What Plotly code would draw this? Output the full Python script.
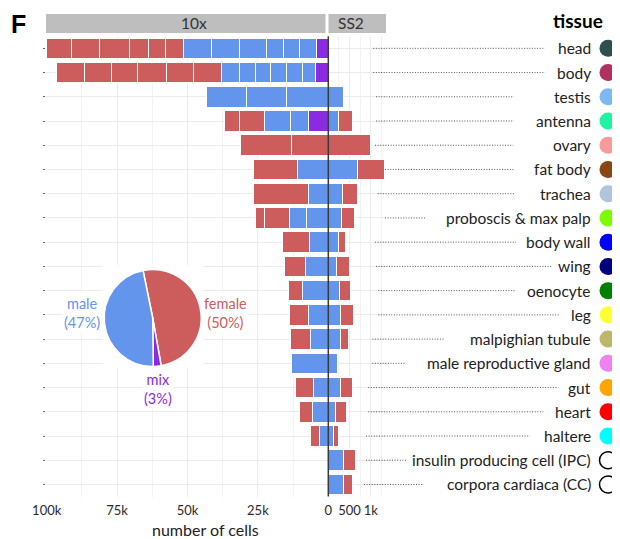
import plotly.graph_objects as go

# ---------------- data ----------------
tissues = ["head", "body", "testis", "antenna", "ovary", "fat body", "trachea",
           "proboscis & max palp", "body wall", "wing", "oenocyte", "leg",
           "malpighian tubule", "male reproductive gland", "gut", "heart",
           "haltere", "insulin producing cell (IPC)", "corpora cardiaca (CC)"]

# 10x segments (cells), listed from the zero line outward
mix_10x = [[4100], [4400], [], [7200], [], [], [], [], [], [], [], [], [], [], [], [], [], [], []]
male_10x = [[6000, 5700, 6000, 9900, 9900, 9800],
            [4800, 5800, 5700, 5300, 5700, 6100],
            [14800, 14100, 14200],
            [6400, 9200],
            [],
            [11100],
            [7100],
            [7700, 6100],
            [6800],
            [8100],
            [9300],
            [7200],
            [6200],
            [12900],
            [5400],
            [5500],
            [3200],
            [],
            []]
female_10x = [[6400, 6200, 6600, 10600, 10000, 8900],
              [10100, 9700, 10300, 9200, 9600, 9900],
              [],
              [8900, 5200],
              [12900, 18200],
              [15500],
              [19500],
              [8800, 3400],
              [9500],
              [7500],
              [4900],
              [6700],
              [7300],
              [],
              [6100],
              [4900],
              [3000],
              [],
              []]

# SS2 cells
male_ss2 = [None, None, 354, 236, None, 689, 340, 323, 247, 201, 264, 288, 295, 212, 281, 169, 130, 352, 352]
female_ss2 = [None, None, None, 330, 984, 631, 354, 290, 153, 294, 248, 301, 176, None, 285, 265, 116, 285, 223]

pie_labels = ["female", "mix", "male"]
pie_values = [50.4, 2.6, 47.0]
pie_pct = ["(50%)", "(3%)", "(47%)"]

tick_vals_10x = [25000, 50000, 75000, 100000]
tick_text_10x = ["25k", "50k", "75k", "100k"]
minor_10x = [12500, 37500, 62500, 87500]
tick_vals_ss2 = [0, 500, 1000]
tick_text_ss2 = ["0", "500", "1k"]
minor_ss2 = [250, 750, 1250]

tissue_colors = ["#2F4F4F", "#B03060", "#7EB8F2", "#1EF5A2", "#F99A9A", "#8B4513",
                 "#B0C4DE", "#7CFC00", "#0000FF", "#000080", "#008000", "#FFFF33",
                 "#BDB76B", "#EE82EE", "#FFA500", "#FF0000", "#00FFFF", "#FFFFFF", "#FFFFFF"]

# ---------------- layout constants ----------------
OFF = 8                      # default page body margin
WIN_W, WIN_H = 620, 539
W, H = WIN_W - OFF, WIN_H - OFF
FONT = "Lato"
C_F, C_M, C_X = "#CD5C5C", "#6495ED", "#8A2BE2"

def px(x):
    return (x - OFF) / W

def py(y):
    return 1 - (y - OFF) / H

X_L0, X_ZERO, X_R1 = 46.0, 328.3, 386.0
Y_TOP, Y_BOT = 36.2, 496.6
X10_MAX = 100250
SS2_MAX = 1360
n = len(tissues)

def x10(pxv):
    # pixel -> 10x data value (for decorative box only)
    return (X_ZERO - pxv) / (X_ZERO - X_L0) * X10_MAX

def yidx(pyv):
    return (pyv - Y_TOP) / (Y_BOT - Y_TOP) * n - 0.5

def rowy(i):
    return py(Y_TOP + (i + 0.5) * (Y_BOT - Y_TOP) / n)

# leader line pixel extents (layout)
leader_x0 = [373.3, 373.3, 376, 376, 375, 385, 377.7, 385, 375, 376, 378.3, 378.3, 372.3, 372.3, 368.3, 368.3, 366, 366, 364]
leader_x1 = [545, 545, 514, 514, 513.3, 514, 515, 425, 516, 551.7, 516, 560, 445, 405, 558.3, 543.3, 530, 406.7, 424]

fig = go.Figure()

# white box hiding the grid behind the pie inset
bx0, bx1, by0, by1 = x10(103), x10(203), yidx(265), yidx(368)
fig.add_trace(go.Scatter(x=[bx0, bx1, bx1, bx0, bx0], y=[by0, by0, by1, by1, by0],
                         mode="lines", fill="toself", fillcolor="white",
                         line=dict(width=0, color="white"), xaxis="x", yaxis="y",
                         showlegend=False, hoverinfo="skip"))


def add_stack(groups, color, xa, ya):
    maxk = max(len(g) for g in groups)
    for k in range(maxk):
        vals = [g[k] if k < len(g) else None for g in groups]
        fig.add_trace(go.Bar(x=vals, y=list(range(n)), orientation="h", width=0.85,
                             marker=dict(color=color, line=dict(color="white", width=1)),
                             xaxis=xa, yaxis=ya, showlegend=False, hoverinfo="skip"))


add_stack(mix_10x, C_X, "x", "y")
add_stack(male_10x, C_M, "x", "y")
add_stack(female_10x, C_F, "x", "y")
add_stack([[v] if v is not None else [] for v in male_ss2], C_M, "x2", "y2")
add_stack([[v] if v is not None else [] for v in female_ss2], C_F, "x2", "y2")

# legend circles
line_cols = ["black" if c == "#FFFFFF" else c for c in tissue_colors]
line_w = [1.5 if c == "#FFFFFF" else 0 for c in tissue_colors]
fig.add_trace(go.Scatter(x=[0.5] * n, y=list(range(n)), mode="markers",
                         marker=dict(size=17, color=tissue_colors,
                                     line=dict(color=line_cols, width=line_w)),
                         xaxis="x3", yaxis="y3", showlegend=False, hoverinfo="skip",
                         cliponaxis=False))

# pie inset
fig.add_trace(go.Pie(labels=pie_labels, values=pie_values, sort=False,
                     direction="clockwise", rotation=-11.5, textinfo="none",
                     marker=dict(colors=[C_F, C_X, C_M], line=dict(color="white", width=1.5)),
                     domain=dict(x=[px(104.2), px(201.2)], y=[py(366.5), py(269.5)]),
                     showlegend=False, hoverinfo="skip"))

yrange = [n - 0.5, -0.5]
grid = "#EBEBEB"
tickfont = dict(family=FONT, size=13, color="#2A2A2A")

fig.update_layout(
    width=W, height=H, margin=dict(l=0, r=0, t=0, b=0, autoexpand=False),
    paper_bgcolor="white", plot_bgcolor="white",
    barmode="stack", font=dict(family=FONT),
    xaxis=dict(domain=[px(X_L0), px(X_ZERO)], range=[X10_MAX, 0], anchor="y",
               tickmode="array", tickvals=tick_vals_10x, ticktext=tick_text_10x, tickfont=tickfont,
               tickangle=0, showgrid=True, gridcolor=grid, zeroline=False, ticks="",
               ticklabelstandoff=4,
               minor=dict(tickmode="array", tickvals=minor_10x, showgrid=True, gridcolor="#F2F2F2")),
    xaxis2=dict(domain=[px(X_ZERO), px(X_R1)], range=[0, SS2_MAX], anchor="y2",
                tickmode="array", tickvals=tick_vals_ss2, ticktext=tick_text_ss2, tickfont=tickfont,
                tickangle=0, showgrid=True, gridcolor=grid, zeroline=False, ticks="",
                ticklabelstandoff=4,
                minor=dict(tickmode="array", tickvals=minor_ss2, showgrid=True, gridcolor="#F2F2F2")),
    xaxis3=dict(domain=[px(598), px(618)], range=[0, 1], anchor="y3", visible=False),
    yaxis=dict(domain=[py(Y_BOT), py(Y_TOP)], range=yrange, anchor="x",
               tickmode="array", tickvals=list(range(n)), showticklabels=False,
               ticks="outside", ticklen=2, tickcolor="#666666", showgrid=True, gridcolor=grid,
               zeroline=False),
    yaxis2=dict(domain=[py(Y_BOT), py(Y_TOP)], range=yrange, anchor="x2",
                tickmode="array", tickvals=list(range(n)), showticklabels=False,
                ticks="", showgrid=True, gridcolor=grid, zeroline=False),
    yaxis3=dict(domain=[py(Y_BOT), py(Y_TOP)], range=yrange, anchor="x3", visible=False),
)

shapes = []
# strips
shapes.append(dict(type="rect", xref="paper", yref="paper", x0=px(46), x1=px(325.5),
                   y0=py(33), y1=py(14), fillcolor="#BEBEBE", line=dict(width=0)))
shapes.append(dict(type="rect", xref="paper", yref="paper", x0=px(328.5), x1=px(386),
                   y0=py(33), y1=py(14), fillcolor="#BEBEBE", line=dict(width=0)))
# zero line
shapes.append(dict(type="line", xref="paper", yref="paper", x0=px(X_ZERO), x1=px(X_ZERO),
                   y0=py(Y_BOT), y1=py(Y_TOP), line=dict(color="#3A3A3A", width=1.5)))
# leader lines
for i in range(n):
    shapes.append(dict(type="line", xref="paper", yref="paper", x0=px(leader_x0[i]), x1=px(leader_x1[i]),
                       y0=rowy(i), y1=rowy(i), line=dict(color="#555555", width=1, dash="1px,1.6px")))


def ann(text, x, y, size, color, xanchor="center", family=FONT, **kw):
    d = dict(text=text, x=px(x), y=y, xref="paper", yref="paper", xanchor=xanchor,
             yanchor="middle", showarrow=False, font=dict(family=family, size=size, color=color))
    d.update(kw)
    return d


annotations = [
    ann("<b>F</b>", 18, py(24), 25, "black", family="Liberation Sans"),
    ann("10x", 194, py(23.5), 15.5, "#333333"),
    ann("SS2", 351, py(23.5), 15.5, "#333333"),
    ann("<b>tissue</b>", 578, py(20), 19, "black"),
    ann("number of cells", 205, py(529), 16, "#222222"),
]
for i, t in enumerate(tissues):
    annotations.append(ann(t, 592.7, rowy(i), 15.5, "#222222", xanchor="right"))

# pie labels
pie_pos = {"female": (225, 313), "mix": (158, 388.5), "male": (81.7, 313)}
pie_col = {"female": C_F, "mix": C_X, "male": C_M}
for lab, pct in zip(pie_labels, pie_pct):
    x0, y0 = pie_pos[lab]
    annotations.append(ann(lab + "<br>" + pct, x0, py(y0), 14.5, pie_col[lab],
                           bgcolor="white", align="center"))

fig.update_layout(shapes=shapes, annotations=annotations)
fig.write_html("out.html")
